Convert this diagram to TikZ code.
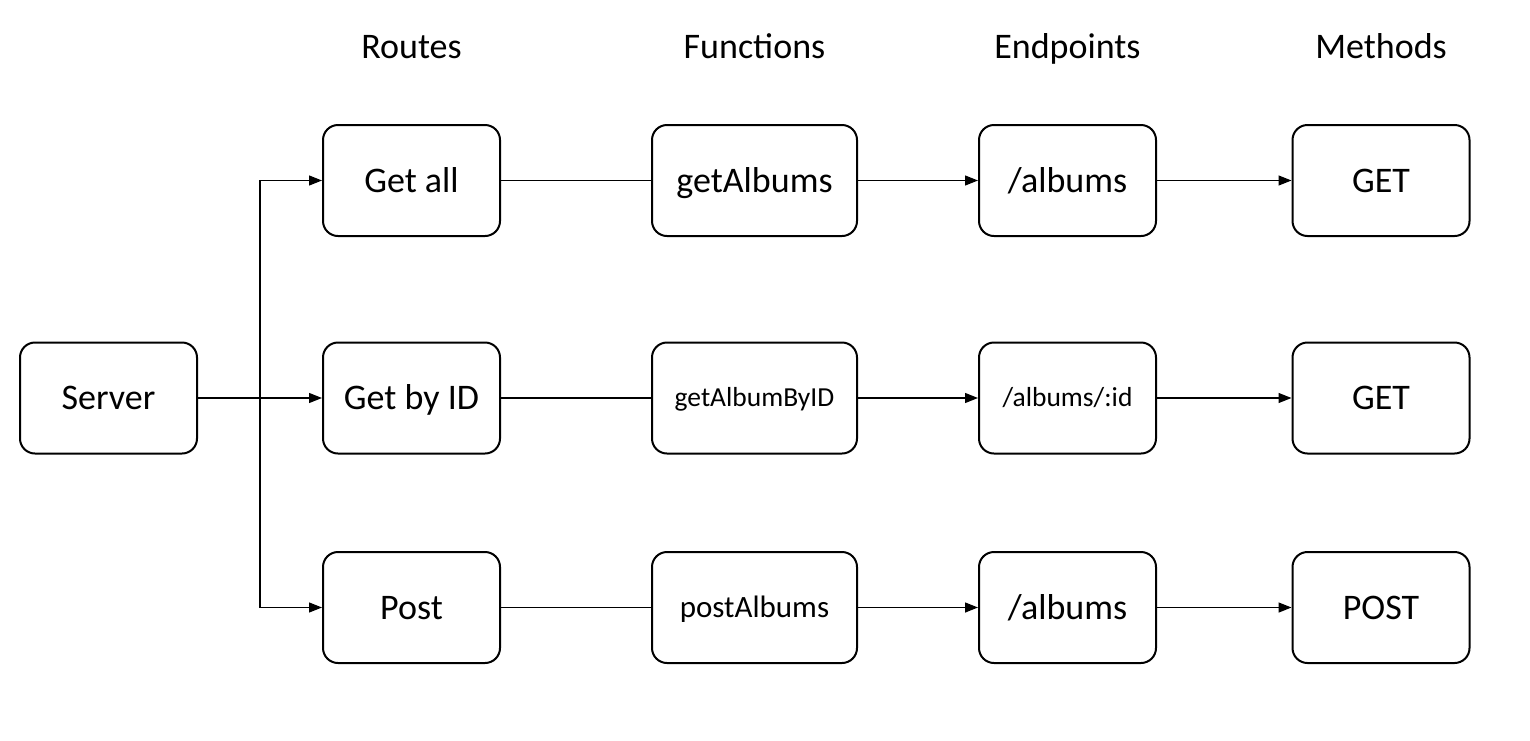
\documentclass[tikz,border=0pt]{standalone}
\usepackage{fontspec}
\setmainfont{Carlito}
\usetikzlibrary{arrows.meta}
\begin{document}
\begin{tikzpicture}[x=1pt,y=-1pt,
  fs/.style={font=\fontsize{#1}{#1}\selectfont, text height=0.9*#1 pt, text depth=0.26*#1 pt},
  box/.style={draw, line width=2pt, rounded corners=15pt, minimum height=111pt, inner sep=0pt, fs=36},
  narrow/.style={box, minimum width=177pt},
  wide/.style={box, minimum width=205pt},
  head/.style={fs=36, inner sep=0pt},
  conn/.style={line width=1.3pt},
  arr/.style={conn, -{Triangle[length=13pt,width=10pt]}}]
\useasboundingbox (0,0) rectangle (1530,740);
\node[head] (hR) at (411.5,47) {Routes};
\node[head] (hF) at (754.5,47) {Functions};
\node[head] (hE) at (1067.5,47) {Endpoints};
\node[head] (hM) at (1381,47) {Methods};

\node[narrow] (server) at (108.5,398) {Server};

\node[narrow] (r1) at (411.5,180.5) {Get all};
\node[narrow] (r2) at (411.5,398) {Get by ID};
\node[narrow] (r3) at (411.5,607.5) {Post};

\node[wide] (f1) at (754.5,180.5) {getAlbums};
\node[wide, fs=27.5] (f2) at (754.5,398) {getAlbumByID};
\node[wide, fs=31] (f3) at (754.5,607.5) {postAlbums};

\node[narrow] (e1) at (1067.5,180.5) {/albums};
\node[narrow, fs=27.5] (e2) at (1067.5,398) {/albums/:id};
\node[narrow] (e3) at (1067.5,607.5) {/albums};

\node[narrow] (m1) at (1381,180.5) {GET};
\node[narrow] (m2) at (1381,398) {GET};
\node[narrow] (m3) at (1381,607.5) {POST};

\coordinate (br) at (260,398);
\draw[conn] (server.east) -- (br);
\draw[arr] (br) -- (r2.west);
\draw[arr] (br) |- (r1.west);
\draw[arr] (br) |- (r3.west);

\foreach \i in {1,2,3} {
  \draw[conn] (r\i.east) -- (f\i.west);
  \draw[arr] (f\i.east) -- (e\i.west);
  \draw[arr] (e\i.east) -- (m\i.west);
}
\end{tikzpicture}
\end{document}
